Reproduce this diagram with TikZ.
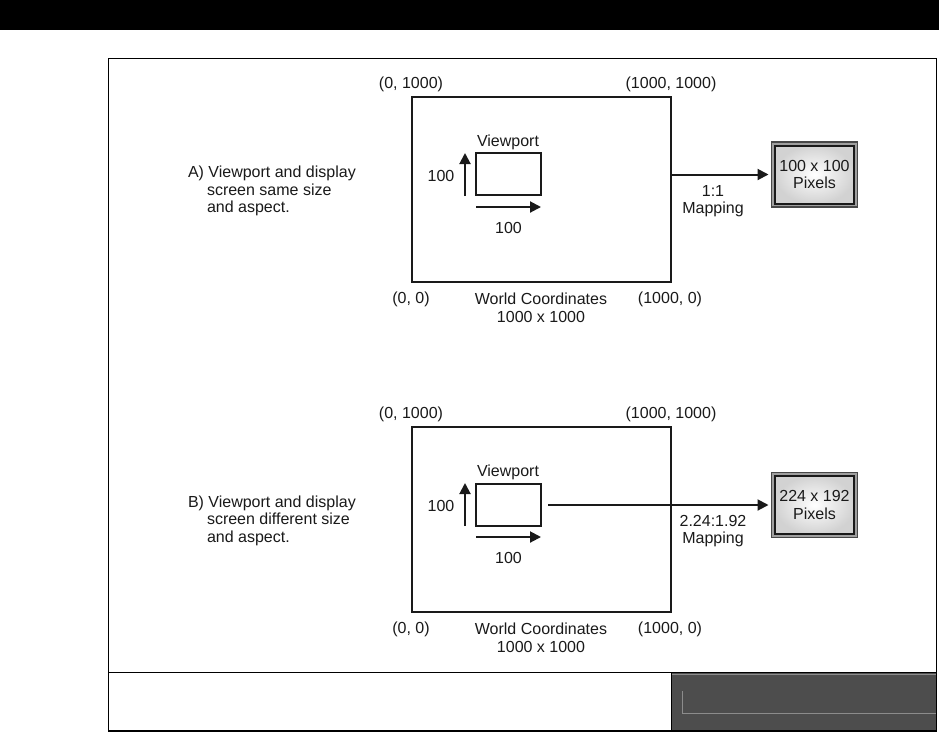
\documentclass[tikz,border=0pt]{standalone}
\usepackage{fontspec}
\setmainfont{Liberation Sans}
\usetikzlibrary{arrows.meta,shadings}
\definecolor{ink}{HTML}{1A1A1A}
\definecolor{panel}{HTML}{4D4D4D}
\definecolor{panelline}{HTML}{8C8C8C}
\tikzset{
  x=1pt,y=-1pt,
  every node/.style={font=\fontsize{16}{17.5}\selectfont,text=ink,inner sep=0pt,outer sep=0pt,align=center},
  world/.style={draw=ink,line width=2pt,minimum width=259pt,minimum height=185pt},
  viewbox/.style={draw=ink,line width=2pt,minimum width=65pt,minimum height=42pt},
  screen/.style={draw=ink!80,line width=1.2pt,fill=gray!75,minimum width=86pt,minimum height=65pt},
  screeninner/.style={draw=ink,line width=2pt,inner color=white,outer color=gray!35,minimum width=79pt,minimum height=58pt,align=center},
  conn/.style={draw=ink,line width=2pt,-{Triangle[length=11pt,width=11pt]}},
  frameline/.style={draw=black,line width=1.5pt},
}
\begin{document}
\begin{tikzpicture}
\useasboundingbox (0,0) rectangle (939,732);
\fill[white] (0,0) rectangle (939,732);
\fill[black] (0,0) rectangle (939,30);
% frame
\fill[panel] (671.5,673) rectangle (936.5,731);
\draw[panelline,line width=.9pt] (672,674.2) -- (936,674.2);
\draw[panelline,line width=.9pt] (682.7,691) -- (682.7,713.3) -- (936,713.3);
\draw[frameline] (108.5,58.5) rectangle (936.5,731);
\draw[frameline] (108.5,672.7) -- (936.5,672.7);
\draw[frameline] (671.5,672.7) -- (671.5,731);

% ---- A
\node[world] (worldA) at (541,189) {};
\node[viewbox] (vpA) at (508.5,174) {};
\node (vpAlabel) at (508,142) {Viewport};
\coordinate (upAs) at (465,196);
\coordinate (upAe) at (465,153);
\coordinate (rtAs) at (476,207);
\coordinate (rtAe) at (541,207);
\draw[conn] (upAs) -- (upAe);
\draw[conn] (rtAs) -- (rtAe);
\node (hA) at (441,175.5) {100};
\node (wA) at (508.5,228) {100};
\node (tlA) at (411,84) {(0, 1000)};
\node (trA) at (671,84) {(1000, 1000)};
\node (blA) at (411,299) {(0, 0)};
\node (brA) at (670,299) {(1000, 0)};
\node (capA) at (541,308) {World Coordinates\\1000 x 1000};
\node[anchor=west,align=left] (descA) at (188,191) {A) Viewport and display\\\hspace*{19pt}screen same size\\\hspace*{19pt}and aspect.};
\node[screen] (scrA) at (814.5,174.5) {};
\node[screeninner] (scrAi) at (814.5,174.5) {100 x 100\\Pixels};
\draw[conn,shorten >=3pt] (worldA.east |- scrA.west) -- (scrA.west);
\node (mapA) at (713,201) {1:1\\Mapping};

% ---- B
\node[world] (worldB) at (541,519) {};
\node[viewbox] (vpB) at (508.5,505) {};
\node (vpBlabel) at (508,472) {Viewport};
\coordinate (upBs) at (465,526);
\coordinate (upBe) at (465,483);
\coordinate (rtBs) at (476,537);
\coordinate (rtBe) at (541,537);
\draw[conn] (upBs) -- (upBe);
\draw[conn] (rtBs) -- (rtBe);
\node (hB) at (441,506) {100};
\node (wB) at (508.5,558) {100};
\node (tlB) at (411,414) {(0, 1000)};
\node (trB) at (671,414) {(1000, 1000)};
\node (blB) at (411,629) {(0, 0)};
\node (brB) at (670,629) {(1000, 0)};
\node (capB) at (541,638) {World Coordinates\\1000 x 1000};
\node[anchor=west,align=left] (descB) at (188,520.5) {B) Viewport and display\\\hspace*{19pt}screen different size\\\hspace*{19pt}and aspect.};
\node[screen] (scrB) at (814.5,505) {};
\node[screeninner] (scrBi) at (814.5,505) {224 x 192\\Pixels};
\draw[conn,shorten <=7pt,shorten >=3pt] (vpB.east) -- (scrB.west);
\node (mapB) at (713,531) {2.24:1.92\\Mapping};
\end{tikzpicture}
\end{document}
